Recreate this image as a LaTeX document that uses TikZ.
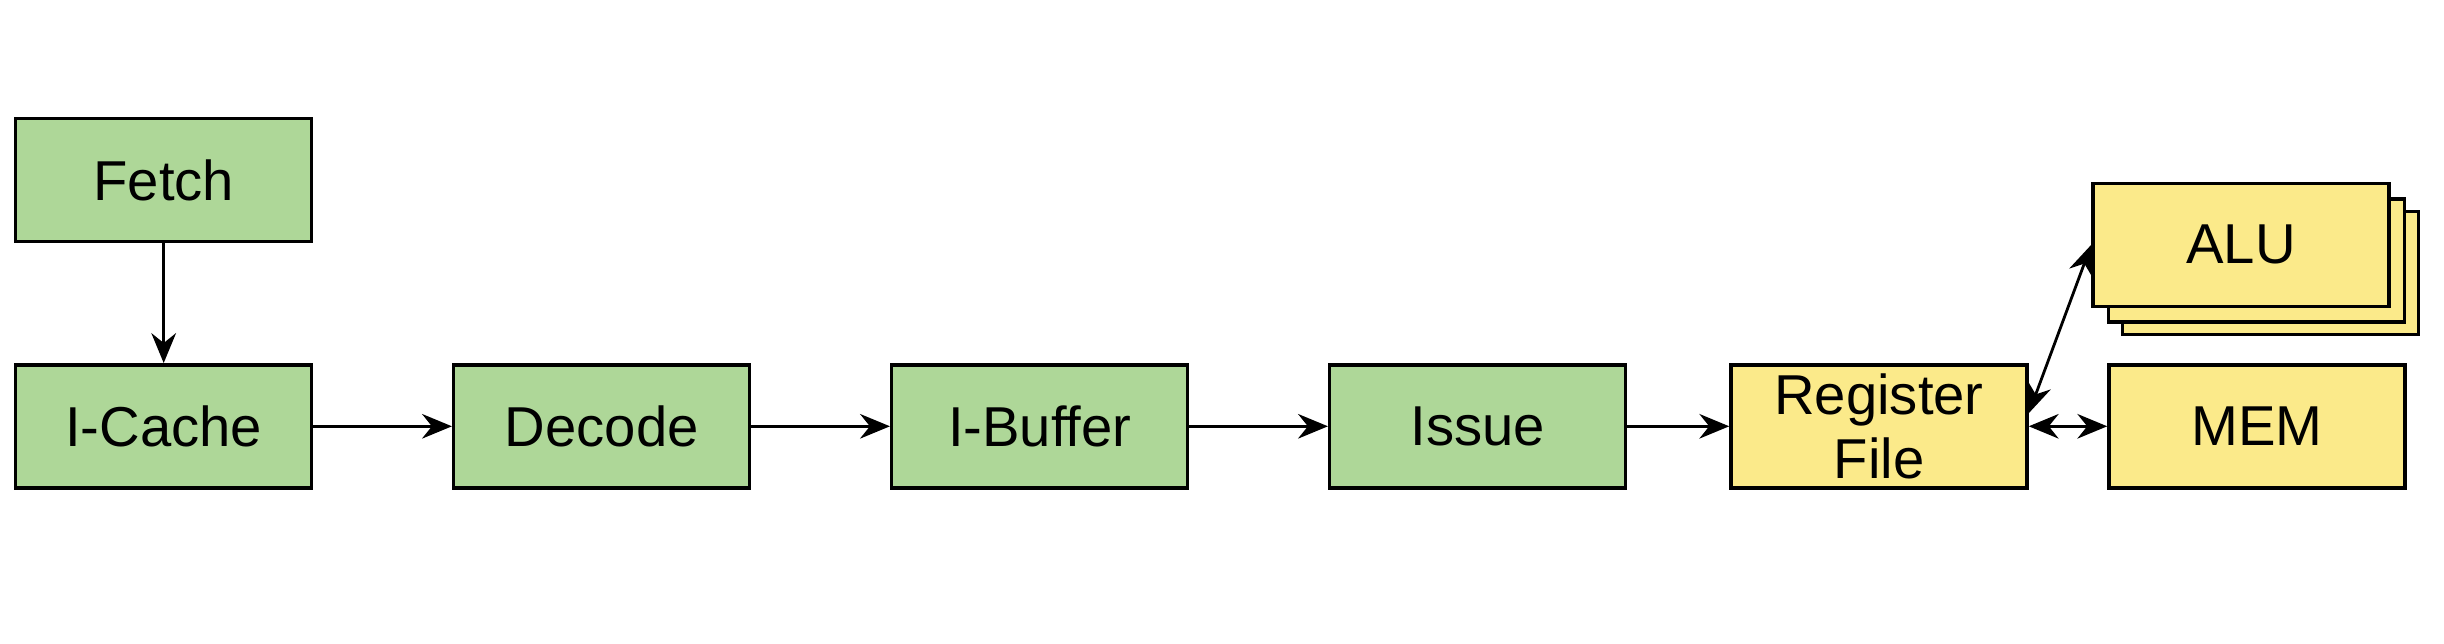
\documentclass[tikz,border=0pt]{standalone}
\usepackage{fontspec}
\setmainfont{Liberation Sans}
\usetikzlibrary{arrows.meta}
\definecolor{stagegreen}{HTML}{AED798}
\definecolor{unityellow}{HTML}{FBEA8A}

\begin{document}
\begin{tikzpicture}[
  box/.style={draw,line width=1pt,minimum width=2.96cm,minimum height=1.23cm,inner sep=1pt,
    font=\fontsize{16}{18.3}\selectfont,align=center},
  greenbox/.style={box,fill=stagegreen},
  yellowbox/.style={box,fill=unityellow},
  conn/.style={line width=0.8pt,-{Stealth[length=8.5pt,width=7pt,inset=2.8pt]}},
  dconn/.style={line width=0.8pt,{Stealth[length=8.5pt,width=7pt,inset=2.8pt]}-{Stealth[length=8.5pt,width=7pt,inset=2.8pt]}}]
\useasboundingbox (0,0) rectangle (24.44,-6.44);

% front end
\node[greenbox] (fetch) at (1.637,-1.80) {Fetch};
\node[greenbox] (icache) at (1.637,-4.263) {I-Cache};
\node[greenbox] (decode) at (6.017,-4.263) {Decode};
\node[greenbox] (ibuffer) at (10.397,-4.263) {I-Buffer};
\node[greenbox] (issue) at (14.777,-4.263) {Issue};

% back end
\node[yellowbox] (regfile) at (18.79,-4.263) {Register\\File};
\node[yellowbox] (mem) at (22.57,-4.263) {MEM};
\node[yellowbox] (alub) at (22.706,-2.728) {};
\node[yellowbox] (alum) at (22.566,-2.604) {};
\node[yellowbox] (alu) at (22.41,-2.448) {ALU};

\draw[conn] (fetch) -- (icache);
\draw[conn] (icache) -- (decode);
\draw[conn] (decode) -- (ibuffer);
\draw[conn] (ibuffer) -- (issue);
\draw[conn] (issue) -- (regfile);
\draw[dconn] (regfile.east) -- (mem.west);
\draw[dconn] (regfile.5) -- (alu.west);
\end{tikzpicture}
\end{document}
